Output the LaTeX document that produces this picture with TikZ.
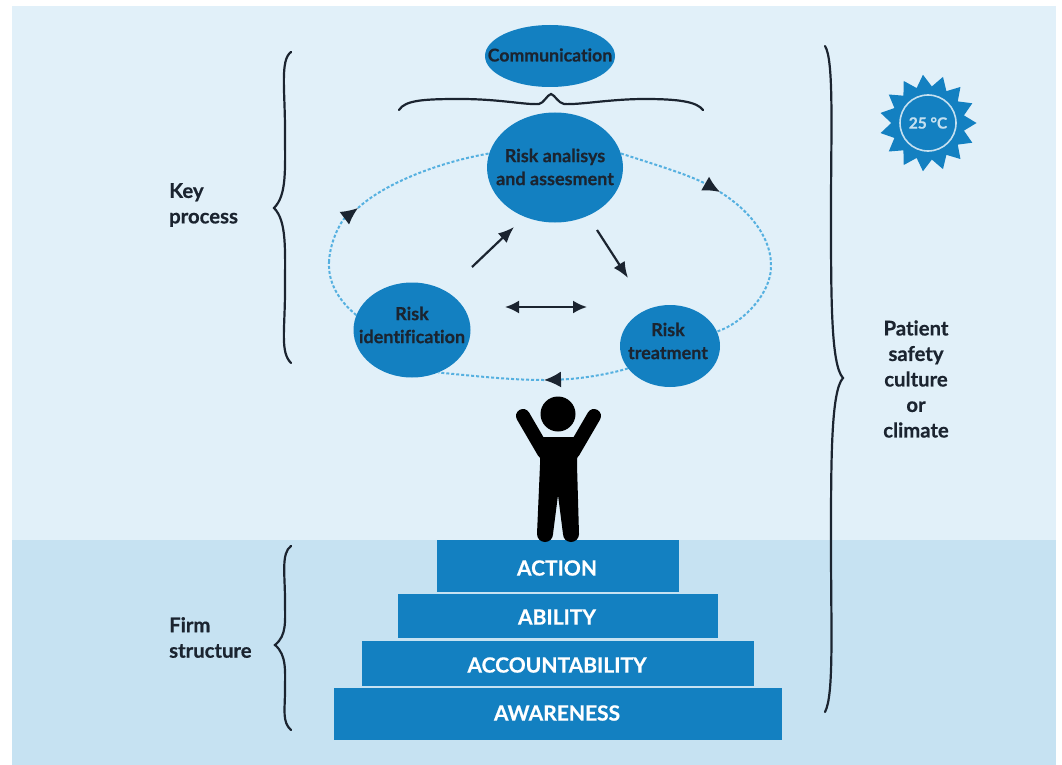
\documentclass[tikz,border=0pt]{standalone}
\usepackage{fontspec}
\setmainfont{Lato}[BoldFeatures={FakeBold=0.5,Ligatures=NoCommon}]
\usetikzlibrary{shapes.geometric,arrows.meta}
\definecolor{bluefill}{HTML}{1380C1}
\definecolor{bgtop}{HTML}{E1F0F9}
\definecolor{bgbot}{HTML}{C6E2F2}
\definecolor{inktext}{HTML}{1B2430}
\definecolor{dotblue}{HTML}{55B0E0}
\definecolor{sunrim}{HTML}{C5E0F0}
\tikzset{
  oval/.style={ellipse,fill=bluefill,inner sep=0pt},
  ovaltext/.style={align=center,font=\fontsize{18}{23}\selectfont\bfseries,text=inktext,inner sep=0pt},
  sidetext/.style={align=left,anchor=west,font=\fontsize{20.3}{25.5}\selectfont\bfseries,text=inktext,inner sep=0pt},
  stepbar/.style={rectangle,fill=bluefill,inner sep=0pt,text=white,font=\fontsize{21}{23}\selectfont\bfseries},
  bracestroke/.style={draw=inktext,line width=2.2pt,line cap=round},
  flow/.style={draw=inktext,line width=2.2pt,-{Latex[length=16pt,width=13pt]}},
  flowboth/.style={draw=inktext,line width=2.2pt,{Latex[length=14pt,width=13pt]}-{Latex[length=14pt,width=13pt]}},
  loopline/.style={draw=dotblue,line width=2pt,dash pattern=on 3pt off 2pt},
  looptip/.style={-{Latex[length=17pt,width=16pt,inktext]}},
  limb/.style={draw=black,line cap=round,line join=round},
}
\begin{document}
\begin{tikzpicture}[x=1pt,y=-1pt]
\useasboundingbox (0,0) rectangle (1062,765);
\fill[white] (0,0) rectangle (1062,765);
\fill[bgtop] (12,6) rectangle (1056,540);
\fill[bgbot] (12,540) rectangle (1056,765);

% nodes of the process
\node[oval,minimum width=130pt,minimum height=62pt] (comm) at (550,56) {};
\node[oval,minimum width=136pt,minimum height=110pt] (ra) at (555,167.5) {};
\node[oval,minimum width=117pt,minimum height=95pt] (ri) at (412,330) {};
\node[oval,minimum width=100pt,minimum height=82pt] (rt) at (670,346) {};
\node[ovaltext,font=\fontsize{17.7}{23}\selectfont\bfseries] at (550,55) {Communication};
\node[ovaltext] at (555,167) {Risk analisys\\and assesment};
\node[ovaltext] at (412,325) {Risk\\identification};
\node[ovaltext] at (668,341) {Risk\\treatment};

% dotted loop
\coordinate (tipA) at (720,192);
\coordinate (tipB) at (544,380);
\coordinate (tipC) at (358,208);
\coordinate (sideR) at (771,267);
\coordinate (sideL) at (329,262);
\draw[loopline,looptip] (ra.12) .. controls (650,163) and (690,175) .. (tipA);
\draw[loopline] (tipA) .. controls (752,212) and (772,240) .. (sideR) .. controls (771,292) and (745,322) .. (rt.17);
\draw[loopline,looptip] (rt.208) .. controls (610,374) and (580,379) .. (tipB);
\draw[loopline] (tipB) .. controls (510,380) and (475,376) .. (ri.-58);
\draw[loopline] (ri.165) .. controls (338,300) and (328,282) .. (sideL);
\draw[loopline,looptip] (sideL) .. controls (330,240) and (342,220) .. (tipC);
\draw[loopline] (tipC) .. controls (385,183) and (440,162) .. (ra.168);

% inner arrows
\coordinate (a1s) at (472,267);
\coordinate (a1e) at (514,227);
\coordinate (a2s) at (597,230);
\coordinate (a2e) at (628,278);
\coordinate (a3s) at (505,307);
\coordinate (a3e) at (587,307);
\draw[flow] (a1s) -- (a1e);
\draw[flow] (a2s) -- (a2e);
\draw[flowboth] (a3s) -- (a3e);

% braces
\draw[bracestroke] (399,110) .. controls (405,100) and (425,99) .. (460,99)
  .. controls (500,99) and (525,105) .. (539,104) .. controls (544,103) and (547,95) .. (551,94)
  .. controls (555,95) and (558,103) .. (564,104) .. controls (580,105) and (610,99) .. (645,99)
  .. controls (680,99) and (697,102) .. (703,110);
\draw[bracestroke] (291,52) .. controls (280,60) and (285,90) .. (285,130)
  .. controls (285,170) and (287,195) .. (274,208)
  .. controls (287,221) and (285,250) .. (285,290)
  .. controls (285,330) and (280,352) .. (291,363);
\draw[bracestroke] (291,546) .. controls (281,553) and (285,575) .. (285,600)
  .. controls (285,622) and (287,635) .. (275,645)
  .. controls (287,655) and (285,672) .. (285,690)
  .. controls (285,710) and (282,722) .. (291,730);
\draw[bracestroke] (825,46) .. controls (834,60) and (831,130) .. (831,210)
  .. controls (831,300) and (831,365) .. (843,378)
  .. controls (831,391) and (831,460) .. (831,545)
  .. controls (831,630) and (834,695) .. (825,712);

% side labels
\node[sidetext] at (169,205) {Key\\process};
\node[sidetext] at (169,637.5) {Firm\\structure};
\node[sidetext,anchor=center,align=center] at (916,379) {Patient\\safety\\culture\\or\\climate};

% sun
\node[star,star points=15,star point ratio=1.32,shape border rotate=6,fill=bluefill,minimum size=97pt,inner sep=0pt] (sun) at (928,123) {};
\node[circle,draw=sunrim,line width=1.6pt,minimum size=56pt,inner sep=0pt,
  text=sunrim,font=\fontsize{15.5}{17}\selectfont\bfseries] (suncore) at (sun.center) {25 °C};

% steps
\node[stepbar,minimum width=242pt,minimum height=52pt] (st1) at (558,565.5) {};
\node[stepbar,minimum width=320pt,minimum height=44pt] (st2) at (558,616) {};
\node[stepbar,minimum width=392pt,minimum height=45pt] (st3) at (558,663.5) {};
\node[stepbar,minimum width=448pt,minimum height=52pt] (st4) at (558,714) {};
\node[stepbar,fill=none] at (557,568) {ACTION};
\node[stepbar,fill=none] at (557,617) {ABILITY};
\node[stepbar,fill=none] at (557,665) {ACCOUNTABILITY};
\node[stepbar,fill=none] at (557,713) {AWARENESS};

% person
\fill[black] (558,414) circle (17.5);
\draw[limb,line width=14pt] (523,416) -- (544,452);
\draw[limb,line width=14pt] (594,416) -- (573,452);
\fill[black] (540,437) -- (578,437) -- (577,465) -- (579,534) -- (563,534) -- (558,495) -- (553,534) -- (537,534) -- (540,465) -- cycle;
\fill[black] (545,534) circle (8);
\fill[black] (571,534) circle (8);
\end{tikzpicture}
\end{document}
